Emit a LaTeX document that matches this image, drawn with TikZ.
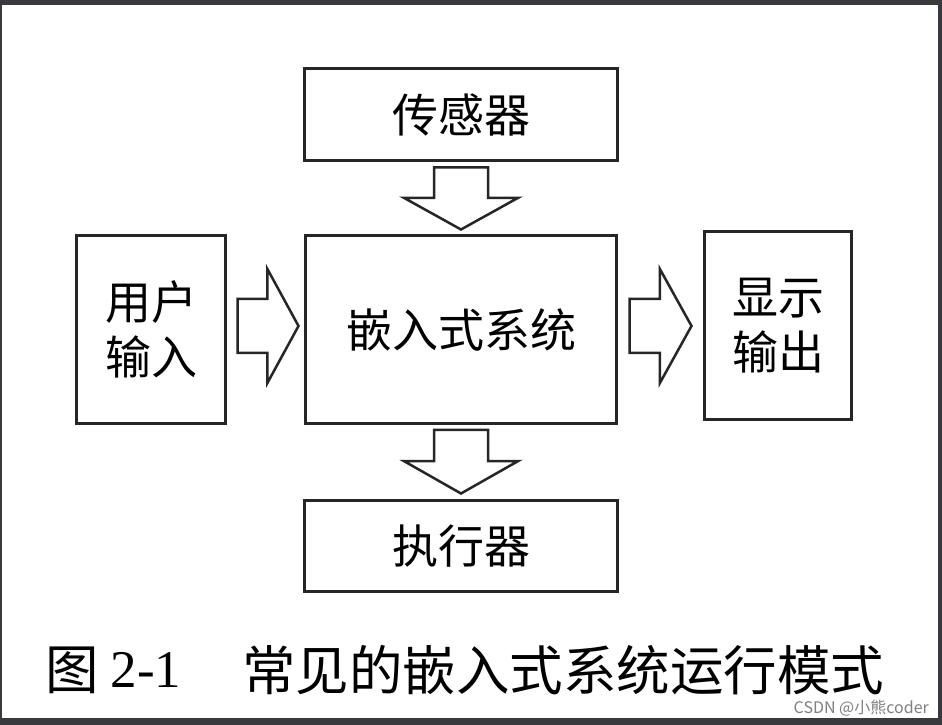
\documentclass[tikz,border=0pt]{standalone}
\usepackage{fontspec}
\setmainfont{Liberation Serif}
\newfontfamily\cjk{Noto Sans CJK SC}
\usetikzlibrary{calc}
\definecolor{framegray}{RGB}{56,58,61}
\tikzset{
  unitbox/.style={draw=black!85,line width=3pt,inner sep=0pt,align=center,
    font=\cjk\fontsize{46}{55}\selectfont},
  flowarrow/.style={draw=black!85,line width=2.5pt,line join=miter,fill=white}
}
\newcommand{\blockarrow}[2]{%
  \coordinate (mid) at ($(#1)!0.49!(#2)$);
  \draw[flowarrow] ($(#1)!27pt!90:(#2)$) -- ($(mid)!27pt!90:(#2)$) -- ($(mid)!57pt!90:(#2)$)
    -- (#2) -- ($(mid)!57pt!-90:(#2)$) -- ($(mid)!27pt!-90:(#2)$) -- ($(#1)!27pt!-90:(#2)$) -- cycle;}

\begin{document}
\begin{tikzpicture}[x=1pt,y=1pt]
            \useasboundingbox (0,0) rectangle (942,725);
            \fill[framegray] (0,0) rectangle (942,725);
            \fill[white] (2,7) rectangle (938,720);
            \node[unitbox,minimum width=313pt,minimum height=92pt] (sensor) at (461,610.5) {传感器};
            \node[unitbox,minimum width=311pt,minimum height=188pt] (core) at (461,395.5) {嵌入式系统};
            \node[unitbox,minimum width=149pt,minimum height=188pt] (user) at (151,395.5) {用户\\输入};
            \node[unitbox,minimum width=147pt,minimum height=188pt] (display) at (778,399.5) {显示\\输出};
            \node[unitbox,minimum width=313pt,minimum height=91pt] (actuator) at (461,179) {执行器};
            \coordinate (sensorout) at ($(sensor.south)+(0,-5.5)$);
            \coordinate (corein) at ($(core.north)+(0,4.5)$);
            \coordinate (userout) at ($(user.east)+(10.5,3.5)$);
            \coordinate (coreleft) at ($(core.west)+(-5.5,3.5)$);
            \coordinate (coreright) at ($(core.east)+(11.5,3.5)$);
            \coordinate (displayin) at ($(display.west)+(-11.5,-0.5)$);
            \coordinate (coreout) at ($(core.south)+(0,-5)$);
            \coordinate (actuatorin) at ($(actuator.north)+(0,5.5)$);
            \blockarrow{sensorout}{corein}
            \blockarrow{userout}{coreleft}
            \blockarrow{coreright}{displayin}
            \blockarrow{coreout}{actuatorin}
            \node[font=\cjk\fontsize{53.5}{60}\selectfont] (capfig) at (72,55) {图};
            \node[font=\fontsize{53}{60}\selectfont,inner sep=0pt] (capnum) at (146,55) {2-1};
            \node[font=\cjk\fontsize{53.5}{60}\selectfont,inner sep=0pt] (captext) at (563,55) {常见的嵌入式系统运行模式};
            \node[font=\cjk\fontsize{16}{18}\selectfont,text=gray,anchor=east,inner sep=0pt] (mark) at (929,17) {CSDN @小熊coder};
          \end{tikzpicture}
\end{document}
